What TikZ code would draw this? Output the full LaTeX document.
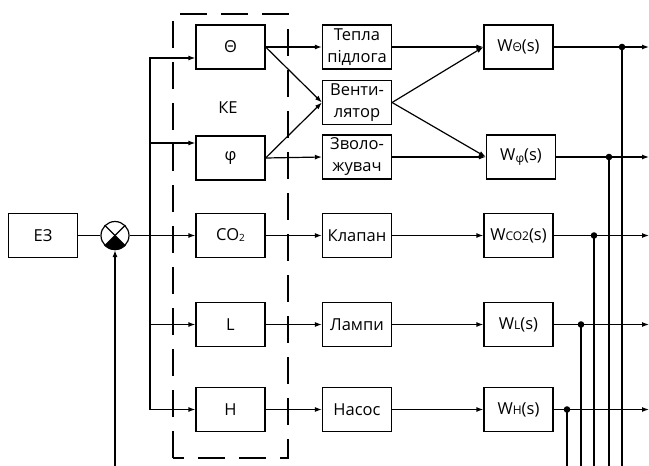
\documentclass[tikz,border=0pt]{standalone}
\usepackage{fontspec}
\setmainfont{Open Sans}
\usetikzlibrary{arrows.meta}

\begin{document}
\begin{tikzpicture}[x=1pt, y=-1pt, line width=1.2pt,
    blok/.style={draw, minimum width=69pt, minimum height=44pt, inner sep=1pt,
      align=center, font=\fontsize{16.5}{22}\selectfont},
    arr/.style={-{Latex[length=7pt, width=5pt]}}]
    % columns and rows in pixels, y pointing down
    \def\xK{230.5}
    \def\xA{357}
    \def\xW{518.5}
    \def\yT{47}
    \def\yV{102.5}
    \def\yF{157}
    \def\yC{235.5}
    \def\yL{324.5}
    \def\yH{409.5}
    \useasboundingbox (0,0) rectangle (649,466);

    % Setpoint and comparison element
    \node[blok] (ez) at (43,\yC) {ЕЗ};
    \node[circle, draw, minimum size=28pt, inner sep=0pt] (sum) at (115,\yC) {};
    \fill (sum.center) \foreach \a in {225,230,...,315} {-- (sum.\a)} -- cycle;
    \draw (sum.45) -- (sum.225);
    \draw (sum.135) -- (sum.315);
    \coordinate (fb) at (115,466);

    % Controllers (KE)
    \draw[line width=1.3pt, dash pattern=on 27pt off 14pt]
      (173,458) -- (173,14) -- (288,14) -- (288,458) -- cycle;
    \node[font=\fontsize{16.5}{18}\selectfont] (ke) at (228,108) {КЕ};
    \node[blok] (th) at (\xK,\yT) {Θ};
    \node[blok] (fi) at (\xK,158) {φ};
    \node[blok] (co) at (\xK,\yC) {CO\raisebox{-1pt}{\fontsize{10}{10}\selectfont 2}};
    \node[blok] (ll) at (\xK,\yL) {L};
    \node[blok] (hh) at (\xK,\yH) {H};

    % Actuators
    \node[blok] (tp) at (\xA,\yT) {Тепла\\підлога};
    \node[blok] (vent) at (\xA,\yV) {Венти-\\лятор};
    \node[blok] (zv) at (\xA,\yF) {Зволо-\\жувач};
    \node[blok] (klap) at (\xA,\yC) {Клапан};
    \node[blok] (lamp) at (\xA,\yL) {Лампи};
    \node[blok] (nas) at (\xA,\yH) {Насос};

    % Plant channels
    \node[blok] (wth) at (\xW,\yT) {W{\fontsize{12}{12}\selectfont Θ}(s)};
    \node[blok] (wfi) at (521,\yF) {W\raisebox{-1.5pt}{\fontsize{12}{12}\selectfont φ}(s)};
    \node[blok] (wco) at (\xW,\yC) {W{\fontsize{12}{12}\selectfont CO2}(s)};
    \node[blok] (wl) at (\xW,\yL) {W{\fontsize{12}{12}\selectfont L}(s)};
    \node[blok] (wh) at (\xW,\yH) {W{\fontsize{12}{12}\selectfont H}(s)};

    % Forward path and branching to controllers
    \coordinate (br) at (150,\yC);
    \draw (ez.east) -- (sum.west);
    \draw[arr] (sum.east) -- (co.west);
    \draw[arr] (br) |- ([yshift=-11pt]th.west);
    \draw[arr] (br) |- ([yshift=15pt]fi.west);
    \draw[arr] (br) |- (ll.west);
    \draw[arr] (br) |- (hh.west);
    \draw[arr] (fb) -- (sum.south);

    % Controllers to actuators
    \draw[arr] (th.east) -- (tp.west);
    \draw[arr] (th.east) -- (vent.west);
    \draw[arr] (fi.east) -- (vent.west);
    \draw[arr] (fi.east) -- (zv.west);
    \draw[arr] (co.east) -- (klap.west);
    \draw[arr] (ll.east) -- (lamp.west);
    \draw[arr] (hh.east) -- (nas.west);

    % Actuators to plant
    \draw[arr] (tp.east) -- (wth.west);
    \draw[arr] (vent.east) -- (wth.west);
    \draw[arr] (vent.east) -- (wfi.west);
    \draw[arr] (zv.east) -- (wfi.west);
    \draw[arr] (klap.east) -- (wco.west);
    \draw[arr] (lamp.east) -- (wl.west);
    \draw[arr] (nas.east) -- (wh.west);

    % Outputs with feedback taps
    \coordinate (rim) at (649,0);
    \foreach \n/\x in {wth/622, wfi/609, wco/594, wl/581, wh/567} {
      \coordinate (tap) at (\x,0);
      \coordinate (low) at (\x,466);
      \draw[arr] (\n.east) -- (\n.east -| rim);
      \draw (\n.east -| tap) -- (low);
      \fill (\n.east -| tap) circle[radius=3.3pt];
    }
\end{tikzpicture}
\end{document}
